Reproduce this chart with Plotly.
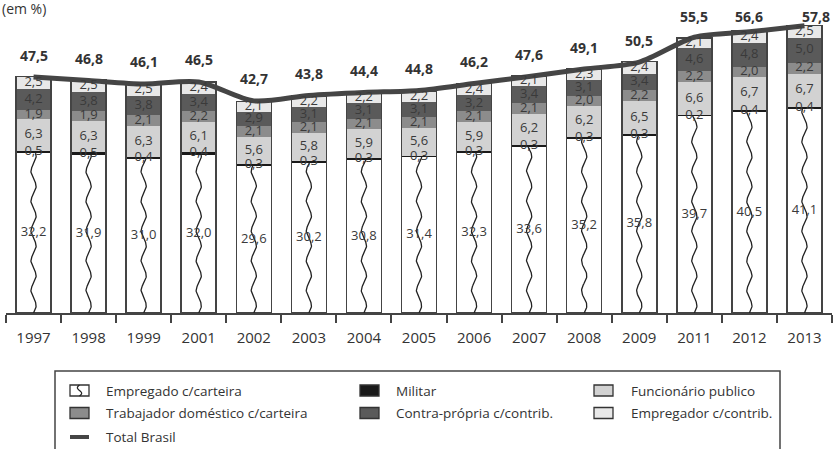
import numpy as np
import plotly.graph_objects as go

years = ['1997', '1998', '1999', '2001', '2002', '2003', '2004', '2005',
         '2006', '2007', '2008', '2009', '2011', '2012', '2013']
empregado = [32.2, 31.9, 31.0, 32.0, 29.6, 30.2, 30.8, 31.4, 32.3, 33.6, 35.2, 35.8, 39.7, 40.5, 41.1]
militar = [0.5, 0.5, 0.4, 0.4, 0.3, 0.3, 0.3, 0.3, 0.3, 0.3, 0.3, 0.3, 0.2, 0.4, 0.4]
funcionario = [6.3, 6.3, 6.3, 6.1, 5.6, 5.8, 5.9, 5.6, 5.9, 6.2, 6.2, 6.5, 6.6, 6.7, 6.7]
domestico = [1.9, 1.9, 2.1, 2.2, 2.1, 2.1, 2.1, 2.1, 2.1, 2.1, 2.0, 2.2, 2.2, 2.0, 2.2]
contra = [4.2, 3.8, 3.8, 3.4, 2.9, 3.1, 3.1, 3.1, 3.2, 3.4, 3.1, 3.4, 4.6, 4.8, 5.0]
empregador = [2.5, 2.5, 2.5, 2.4, 2.1, 2.2, 2.2, 2.2, 2.4, 2.1, 2.3, 2.4, 2.1, 2.4, 2.5]
total = [47.5, 46.8, 46.1, 46.5, 42.7, 43.8, 44.4, 44.8, 46.2, 47.6, 49.1, 50.5, 55.5, 56.6, 57.8]

series = [
    ("Empregado c/carteira", empregado, "#ffffff"),
    ("Militar", militar, "#1a1a1a"),
    ("Funcionário publico", funcionario, "#d2d2d2"),
    ("Trabajador doméstico c/carteira", domestico, "#8c8c8c"),
    ("Contra-própria c/contrib.", contra, "#5a5a5a"),
    ("Empregador c/contrib.", empregador, "#e8e8e8"),
]

W, H = 840, 449
ML, MR, MT, MB = 6, 8, 0, 136
PW, PH = W - ML - MR, H - MT - MB
YMAX = 63.0
PPU = PH / YMAX
BW = 0.636
FONT = "Open Sans"
n = len(years)
idx = list(range(n))


def fmt(v):
    return f"{v:.1f}".replace(".", ",")


def px_x(px):
    return (px - ML) / PW


def px_y(py):
    return (MT + PH - py) / PH


fig = go.Figure()

# stacked bars
for name, vals, col in series:
    fig.add_trace(go.Bar(
        x=years, y=vals, name=name, width=BW,
        marker=dict(color=col, line=dict(width=0)),
        showlegend=False, hoverinfo="skip",
    ))

# outer outline of each stacked bar
sums = np.sum([s[1] for s in series], axis=0)
fig.add_trace(go.Bar(
    x=idx, y=sums, xaxis="x2", width=BW, base=0,
    marker=dict(color="rgba(0,0,0,0)", line=dict(color="#444444", width=1.5)),
    showlegend=False, hoverinfo="skip",
))

# wavy decoration in the "Empregado" segment
amp = 2.6 / (PW / n)
for i, v in enumerate(empregado):
    yy = np.linspace(0, v, 200)
    xx = i + amp * np.sin(2 * np.pi * yy / 6.0)
    fig.add_trace(go.Scatter(
        x=xx, y=yy, xaxis="x2", mode="lines",
        line=dict(color="#222222", width=1.3),
        showlegend=False, hoverinfo="skip",
    ))

# total line
fig.add_trace(go.Scatter(
    x=idx, y=total, xaxis="x2", mode="lines",
    line=dict(color="#454545", width=5, shape="spline", smoothing=0.8),
    showlegend=False, hoverinfo="skip",
))

# segment labels
base = np.zeros(n)
lx, ly, lt = [], [], []
for name, vals, col in series:
    v = np.array(vals)
    for i in range(n):
        lx.append(i)
        ly.append(base[i] + v[i] / 2)
        lt.append(fmt(v[i]))
    base = base + v
fig.add_trace(go.Scatter(
    x=lx, y=ly, xaxis="x2", mode="text", text=lt,
    textfont=dict(family=FONT, size=13, color="#3a3a3a"),
    showlegend=False, hoverinfo="skip", cliponaxis=False,
))

annotations = []
for i, v in enumerate(total):
    dy = min(22.0, (59.7 - v) * PPU)
    dx = 12 if dy < 12 else 0
    annotations.append(dict(
        x=i, y=v, xref="x2", yref="y", text=f"<b>{fmt(v)}</b>",
        showarrow=False, yshift=dy, xshift=dx,
        font=dict(family=FONT, size=14, color="#333333"),
    ))

annotations.append(dict(
    x=px_x(0), y=px_y(8), xref="paper", yref="paper", text="(em %)",
    showarrow=False, xanchor="left", yanchor="middle",
    font=dict(family=FONT, size=14, color="#333333"),
))

# manual legend
shapes = [dict(type="rect", xref="paper", yref="paper",
               x0=px_x(55), x1=px_x(780), y0=px_y(371), y1=px_y(455),
               line=dict(color="#444444", width=1.5), fillcolor="rgba(0,0,0,0)")]
cols_icon = [70, 360, 594]
cols_text = [104, 394, 629]
rows = [390.5, 413, 437]
legend_items = [(s[0], s[2], "box") for s in series] + [("Total Brasil", "#454545", "line")]
for k, (name, col, kind) in enumerate(legend_items):
    r, c = divmod(k, 3)
    cy = rows[r]
    x0 = cols_icon[c]
    if kind == "box":
        shapes.append(dict(type="rect", xref="paper", yref="paper",
                           x0=px_x(x0), x1=px_x(x0 + 19), y0=px_y(cy + 5.5), y1=px_y(cy - 5.5),
                           fillcolor=col, line=dict(color="#333333", width=1.3)))
        if k == 0:
            pts = []
            for t in np.linspace(0, 1, 12):
                py = cy + 5.5 - 11 * t
                pxv = x0 + 9.5 + 2.2 * np.sin(2 * np.pi * t)
                pts.append((px_x(pxv), px_y(py)))
            path = "M " + " L ".join(f"{a:.5f},{b:.5f}" for a, b in pts)
            shapes.append(dict(type="path", xref="paper", yref="paper", path=path,
                               line=dict(color="#222222", width=1.2)))
    else:
        shapes.append(dict(type="line", xref="paper", yref="paper",
                           x0=px_x(x0), x1=px_x(x0 + 19), y0=px_y(cy), y1=px_y(cy),
                           line=dict(color=col, width=4)))
    annotations.append(dict(
        x=px_x(cols_text[c]), y=px_y(cy), xref="paper", yref="paper", text=name,
        showarrow=False, xanchor="left", yanchor="middle",
        font=dict(family=FONT, size=13.5, color="#333333"),
    ))

fig.update_layout(
    width=W, height=H,
    margin=dict(l=ML, r=MR, t=MT, b=MB),
    barmode="stack",
    paper_bgcolor="white", plot_bgcolor="white",
    showlegend=False,
    xaxis=dict(type="category", range=[-0.5, n - 0.5], tickson="boundaries",
               ticks="outside", ticklen=8, tickwidth=1.5, tickcolor="#444444",
               showline=True, linecolor="#444444", linewidth=1.5,
               showgrid=False, zeroline=False, ticklabelstandoff=10,
               tickfont=dict(family=FONT, size=15, color="#333333"), fixedrange=True),
    xaxis2=dict(overlaying="x", range=[-0.5, n - 0.5], visible=False, fixedrange=True),
    yaxis=dict(range=[0, YMAX], visible=False, showgrid=False, zeroline=False, fixedrange=True),
    annotations=annotations,
    shapes=shapes,
)

fig.write_html("out.html")
